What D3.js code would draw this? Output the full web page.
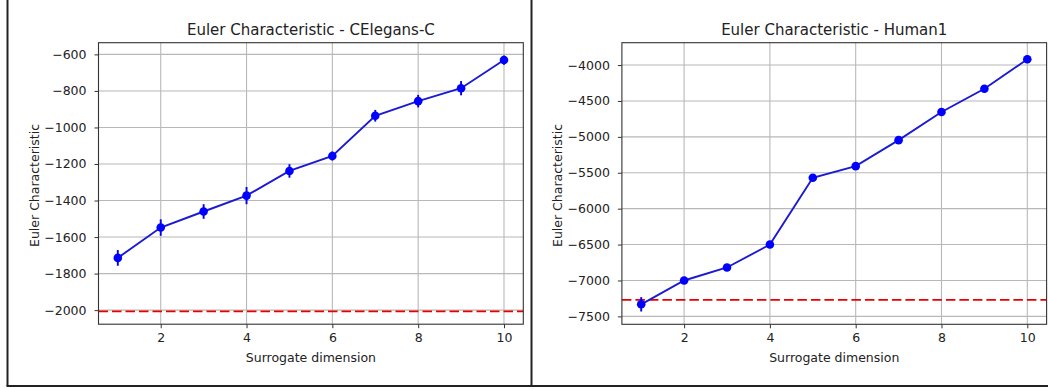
<!DOCTYPE html>
<html>
<head>
<meta charset="utf-8">
<script src="https://cdn.jsdelivr.net/npm/d3@7"></script>
<style>
  body { margin: 0; background: #fff; }
  svg text { font-family: 'DejaVu Sans', sans-serif; fill: #222; }
</style>
</head>
<body>
<div id="viz"></div>
<script>
// data
const dims = [1, 2, 3, 4, 5, 6, 7, 8, 9, 10];
const xTicks = [2, 4, 6, 8, 10];

const celegansEuler = [-1714, -1548, -1460, -1373, -1238, -1156, -936, -856, -785, -631];
const celegansErr = [43, 45, 40, 47, 37, 25, 32, 34, 39, 25];
const celegansRef = -2007;
const celegansTicks = [-2000, -1800, -1600, -1400, -1200, -1000, -800, -600];

const humanEuler = [-7332, -7000, -6819, -6500, -5570, -5408, -5046, -4653, -4330, -3920];
const humanErr = [100, 40, 40, 35, 45, 40, 40, 35, 35, 53];
const humanRef = -7270;
const humanTicks = [-7500, -7000, -6500, -6000, -5500, -5000, -4500, -4000];

const w = 1048;
const h = 389;

var svg = d3.select('#viz').
append('svg').
attr('width', w).
attr('height', h);

// frame of the screenshot
svg.append('line').attr('x1', 7.5).attr('x2', 7.5).attr('y1', 0).attr('y2', 386).
attr('stroke', '#222').attr('stroke-width', 2);
svg.append('line').attr('x1', 531.5).attr('x2', 531.5).attr('y1', 0).attr('y2', 386).
attr('stroke', '#222').attr('stroke-width', 2);
svg.append('line').attr('x1', 6.5).attr('x2', w).attr('y1', 386).attr('y2', 386).
attr('stroke', '#222').attr('stroke-width', 2);

function panel(box, title, values, errs, ref, yTicks, ylabelX) {
  const g = svg.append('g');

  const xScale = d3.scaleLinear().
  domain([0.55, 10.45]).
  range([box.left, box.right]);

  // matplotlib style autoscale: data + error bars + reference line, 5% margin
  const lo = d3.min([ref, d3.min(values.map((v, i) => v - errs[i]))]);
  const hi = d3.max([ref, d3.max(values.map((v, i) => v + errs[i]))]);
  const pad = (hi - lo) * 0.05;
  const yScale = d3.scaleLinear().
  domain([lo - pad, hi + pad]).
  range([box.bottom, box.top]);

  // grid
  g.selectAll('.vgrid').data(xTicks).enter().append('line').
  attr('x1', d => xScale(d)).attr('x2', d => xScale(d)).
  attr('y1', box.top).attr('y2', box.bottom).
  attr('stroke', '#b8b8b8').attr('stroke-width', 1.1);
  g.selectAll('.hgrid').data(yTicks).enter().append('line').
  attr('y1', d => yScale(d)).attr('y2', d => yScale(d)).
  attr('x1', box.left).attr('x2', box.right).
  attr('stroke', '#b8b8b8').attr('stroke-width', 1.1);

  // reference line
  g.append('line').
  attr('x1', box.left).attr('x2', box.right).
  attr('y1', yScale(ref)).attr('y2', yScale(ref)).
  attr('stroke', '#e60000').attr('stroke-width', 1.9).
  attr('stroke-dasharray', '9.5,4');

  // error bars
  g.selectAll('.err').data(dims).enter().append('line').
  attr('x1', d => xScale(d)).attr('x2', d => xScale(d)).
  attr('y1', (d, i) => yScale(values[i] - errs[i])).
  attr('y2', (d, i) => yScale(values[i] + errs[i])).
  attr('stroke', '#0000ee').attr('stroke-width', 1.9);

  const line = d3.line().
  x(d => xScale(d)).
  y((d, i) => yScale(values[i]));

  g.append('path').
  datum(dims).
  attr('d', line).
  attr('fill', 'none').
  attr('stroke', '#1a1ad2').
  attr('stroke-width', 1.9);

  g.selectAll('circle').data(dims).enter().append('circle').
  attr('cx', d => xScale(d)).
  attr('cy', (d, i) => yScale(values[i])).
  attr('r', 4.3).
  attr('fill', '#0000ff');

  // axes
  const xAxis = d3.axisBottom(xScale).
  tickValues(xTicks).
  tickFormat(d3.format('d')).
  tickSize(4).
  tickPadding(5).
  tickSizeOuter(0);
  const yAxis = d3.axisLeft(yScale).
  tickValues(yTicks).
  tickFormat(d3.format('d')).
  tickSize(4).
  tickPadding(8);

  const xa = g.append('g').
  attr('transform', 'translate(0,' + box.bottom + ')').
  call(xAxis);
  const ya = g.append('g').
  attr('transform', 'translate(' + box.left + ',0)').
  call(yAxis);
  [xa, ya].forEach(a => {
    a.select('.domain').remove();
    a.selectAll('line').attr('stroke', '#333');
    a.selectAll('text').style('font-size', '12.5px').attr('fill', '#222');
  });

  // spines
  g.append('rect').
  attr('x', box.left).attr('y', box.top).
  attr('width', box.right - box.left).attr('height', box.bottom - box.top).
  attr('fill', 'none').attr('stroke', '#333').attr('stroke-width', 1.1);

  const cx = (box.left + box.right) / 2;
  g.append('text').
  text(title).
  attr('x', cx).attr('y', 35).
  attr('text-anchor', 'middle').
  style('font-size', '15px');

  g.append('text').
  text('Surrogate dimension').
  attr('x', cx).attr('y', 362).
  attr('text-anchor', 'middle').
  style('font-size', '12.5px');

  g.append('text').
  text('Euler Characteristic').
  attr('transform', 'translate(' + ylabelX + ',' + ((box.top + box.bottom) / 2 + 2) + ') rotate(-90)').
  attr('text-anchor', 'middle').
  style('font-size', '12.5px');
}

panel({ left: 98.5, right: 523.3, top: 42.7, bottom: 324.2 },
'Euler Characteristic - CElegans-C', celegansEuler, celegansErr, celegansRef, celegansTicks, 38.5);

panel({ left: 621.9, right: 1046.6, top: 42.7, bottom: 324.3 },
'Euler Characteristic - Human1', humanEuler, humanErr, humanRef, humanTicks, 561.5);
</script>
</body>
</html>
